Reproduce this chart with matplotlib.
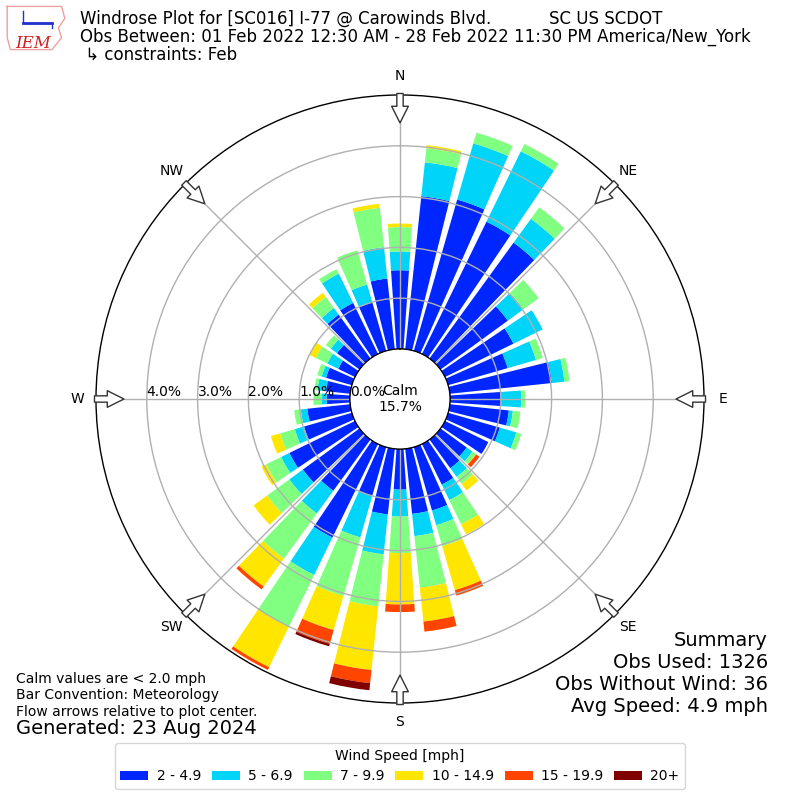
import numpy as np
import matplotlib
matplotlib.use("Agg")
import matplotlib.pyplot as plt
from matplotlib.patches import Patch

# wind direction bins (deg, meteorological) and frequency [%] per speed bin
DIRS = np.arange(0, 360, 10)
SPEED_LABELS = ["2 - 4.9", "5 - 6.9", "7 - 9.9", "10 - 14.9", "15 - 19.9", "20+"]
COLORS = ["#0026ff", "#00d4f8", "#80ff80", "#ffe600", "#ff4500", "#800000"]

BIN_2_5 = [1.55, 3.03, 3.10, 2.90, 2.82, 1.64, 1.50, 1.22, 2.02, 1.01, 1.17, 1.06,
           0.95, 0.64, 0.70, 0.89, 1.30, 1.29, 0.80, 1.30, 1.00, 2.05, 1.25, 1.38,
           1.44, 0.98, 0.85, 0.46, 0.48, 0.53, 0.37, 0.55, 1.07, 1.12, 0.99, 1.40]
BIN_5_7 = [0.37, 0.67, 1.15, 1.54, 0.58, 0.38, 0.64, 0.58, 0.25, 0.39, 0.08, 0.34,
           0.00, 0.14, 0.21, 0.34, 0.30, 0.44, 0.53, 0.79, 0.85, 0.82, 0.55, 0.33,
           0.18, 0.19, 0.13, 0.10, 0.17, 0.09, 0.24, 0.15, 0.16, 0.64, 0.37, 0.62]
BIN_7_10 = [0.48, 0.28, 0.22, 0.16, 0.28, 0.37, 0.00, 0.14, 0.10, 0.08, 0.15, 0.10,
            0.00, 0.08, 0.17, 0.53, 0.43, 1.02, 0.72, 1.03, 1.20, 1.14, 1.10, 0.54,
            0.33, 0.30, 0.13, 0.16, 0.06, 0.09, 0.25, 0.12, 0.27, 0.10, 0.70, 0.78]
BIN_10_15 = [0.07, 0.06, 0.00, 0.00, 0.00, 0.00, 0.00, 0.00, 0.00, 0.00, 0.00, 0.00,
             0.00, 0.01, 0.16, 0.22, 0.90, 0.67, 1.01, 1.26, 0.70, 0.88, 0.68, 0.33,
             0.10, 0.19, 0.00, 0.00, 0.00, 0.00, 0.14, 0.00, 0.10, 0.00, 0.00, 0.08]
BIN_15_20 = [0.00, 0.00, 0.00, 0.00, 0.00, 0.00, 0.00, 0.00, 0.00, 0.00, 0.00, 0.00,
             0.00, 0.08, 0.00, 0.00, 0.11, 0.20, 0.15, 0.26, 0.28, 0.06, 0.07, 0.00,
             0.00, 0.00, 0.00, 0.00, 0.00, 0.00, 0.00, 0.00, 0.00, 0.00, 0.00, 0.00]
BIN_20P = [0.00] * 19 + [0.14, 0.05] + [0.00] * 15

CALM_PCT = 15.7
RTICKS = [0, 1, 2, 3, 4]
RMAX = 5.0
COMPASS = ["N", "NE", "E", "SE", "S", "SW", "W", "NW"]

TITLE = [
    "Windrose Plot for [SC016] I-77 @ Carowinds Blvd.           SC US SCDOT",
    "Obs Between: 01 Feb 2022 12:30 AM - 28 Feb 2022 11:30 PM America/New_York",
    " \u21b3 constraints: Feb",
]
NOTES = ["Calm values are < 2.0 mph", "Bar Convention: Meteorology",
         "Flow arrows relative to plot center."]
SUMMARY = ["Summary", "Obs Used: 1326", "Obs Without Wind: 36", "Avg Speed: 4.9 mph"]

fig = plt.figure(figsize=(8, 8), dpi=100)
ax = fig.add_axes([0.12, 0.12125, 0.76, 0.76], projection="polar")
ax.set_theta_zero_location("N")
ax.set_theta_direction(-1)
ax.set_ylim(0, RMAX)
ax.set_rorigin(-0.984)

theta = np.deg2rad(DIRS)
width = np.deg2rad(8)
bottom = np.zeros(len(DIRS))
series = [BIN_2_5, BIN_5_7, BIN_7_10, BIN_10_15, BIN_15_20, BIN_20P]
for vals, color, lab in zip(series, COLORS, SPEED_LABELS):
    vals = np.array(vals)
    ax.bar(theta, vals, width=width, bottom=bottom, color=color, linewidth=0, label=lab)
    bottom += vals

# grid
ax.set_thetagrids(np.arange(0, 360, 45), labels=[""] * 8)
ax.set_rgrids(RTICKS[1:], labels=[""] * 4)
ax.grid(True, color="#b0b0b0", linewidth=1)
ax.spines["polar"].set_color("black")
ax.spines["polar"].set_linewidth(1)

# calm circle
tt = np.linspace(0, 2 * np.pi, 361)
ax.plot(tt, np.zeros_like(tt), color="black", lw=1, zorder=3)
ax.text(0.5, 0.5, "Calm\n%.1f%%" % CALM_PCT, transform=ax.transAxes,
        ha="center", va="center", fontsize=10, zorder=4)

# r labels along W
for r in RTICKS:
    ax.text(np.deg2rad(270), r, "%.1f%%" % r, ha="left", va="bottom", fontsize=10, zorder=4)

# compass labels and flow arrows
for i, lab in enumerate(COMPASS):
    th = np.deg2rad(i * 45)
    ax.text(th, 5.37, lab, ha="center", va="center", fontsize=10)
    ax.annotate("", xy=(th, 4.45), xytext=(th, 5.03), annotation_clip=False,
                arrowprops=dict(arrowstyle="simple,head_length=1.0,head_width=1.0,tail_width=0.38",
                                fc="white", ec="#333333", lw=1, shrinkA=0, shrinkB=0,
                                mutation_scale=12), zorder=5)

# header
for i, line in enumerate(TITLE):
    fig.text(80 / 800, 1 - (19 + 18 * i) / 800, line, fontsize=12, va="center", ha="left")

# logo
lax = fig.add_axes([0.005, 0.935, 0.08, 0.06])
lax.set_xlim(0, 1)
lax.set_ylim(0, 1)
lax.axis("off")
lax.plot([0.05, 0.9, 0.95, 0.85, 0.9, 0.75, 0.1, 0.05, 0.05],
         [0.95, 0.95, 0.7, 0.5, 0.3, 0.05, 0.05, 0.3, 0.95], color="#f0a0a0", lw=1)
lax.plot([0.3, 0.75], [0.6, 0.6], color="#2233cc", lw=2)
lax.plot([0.3, 0.3, 0.75, 0.75], [0.85, 0.6, 0.6, 0.5], color="#2233cc", lw=1)
lax.text(0.45, 0.18, "IEM", color="#cc2222", fontsize=12, style="italic",
         family="DejaVu Serif", ha="center", va="center")

# notes
for i, line in enumerate(NOTES):
    fig.text(16 / 800, 1 - (679 + 16.5 * i) / 800, line, fontsize=10, va="center")
fig.text(16 / 800, 1 - 729 / 800, "Generated: 23 Aug 2024", fontsize=14, va="center")

for i, line in enumerate(SUMMARY):
    fig.text(768 / 800, 1 - (640 + 22 * i) / 800, line, fontsize=14, va="center", ha="right")

handles = [Patch(facecolor=c, label=l) for c, l in zip(COLORS, SPEED_LABELS)]
fig.legend(handles=handles, loc="center", bbox_to_anchor=(0.5, 1 - 766 / 800), ncol=6,
           title="Wind Speed [mph]", fontsize=10, title_fontsize=10,
           handlelength=2.0, handleheight=0.65, handletextpad=0.6, columnspacing=0.8)

fig.savefig("out.png", dpi=100)
